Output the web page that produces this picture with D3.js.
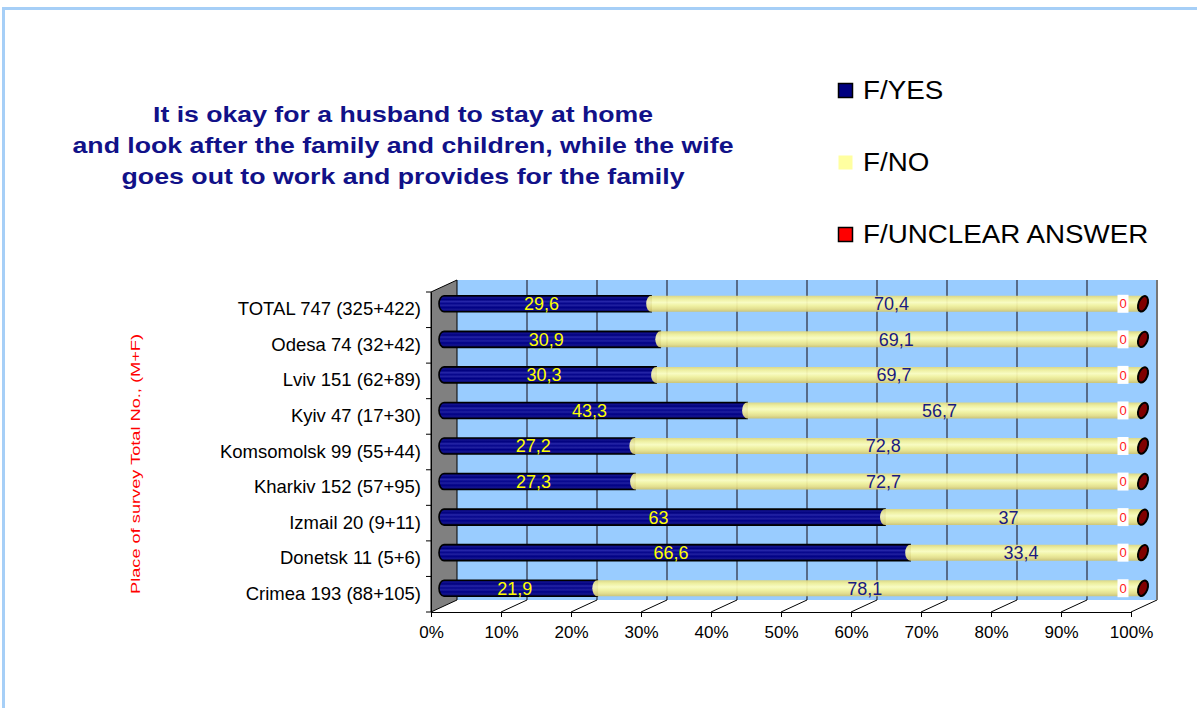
<!DOCTYPE html>
<html><head><meta charset="utf-8">
<script src="https://cdn.jsdelivr.net/npm/d3@7/dist/d3.min.js"></script>
<style>body{margin:0;background:#fff}svg{display:block;font-family:"Liberation Sans",Arial,sans-serif}</style>
</head><body>
<script>
const categories = ["TOTAL 747 (325+422)","Odesa 74 (32+42)","Lviv 151 (62+89)","Kyiv 47 (17+30)","Komsomolsk 99 (55+44)","Kharkiv 152 (57+95)","Izmail 20 (9+11)","Donetsk 11 (5+6)","Crimea 193 (88+105)"];
const yesValues = [29.6,30.9,30.3,43.3,27.2,27.3,63,66.6,21.9];
const noValues = [70.4,69.1,69.7,56.7,72.8,72.7,37,33.4,78.1];
const unclearValues = [0,0,0,0,0,0,0,0,0];
const seriesNames = ["F/YES","F/NO","F/UNCLEAR ANSWER"];
const xTicks = [0,10,20,30,40,50,60,70,80,90,100];
const titleLines = ["It is okay for a husband to stay at home","and look after the family and children, while the wife","goes out to work and provides for the family"];
const yTitle = "Place of survey Total No., (M+F)";

(function(){
const W=1197,H=708;
const svg=d3.select("body").append("svg").attr("width",W).attr("height",H);
const defs=svg.append("defs");
const gb=defs.append("linearGradient").attr("id","gBlue").attr("x1",0).attr("x2",0).attr("y1",0).attr("y2",1);
[[0,"#00004e"],[0.12,"#12128e"],[0.24,"#00007e"],[0.36,"#2626a8"],[0.48,"#06068c"],[0.6,"#2020a0"],[0.72,"#000084"],[0.86,"#141490"],[1,"#00004a"]].forEach(s=>gb.append("stop").attr("offset",s[0]).attr("stop-color",s[1]));
const gy=defs.append("linearGradient").attr("id","gYel").attr("x1",0).attr("x2",0).attr("y1",0).attr("y2",1);
[[0,"#e0d880"],[0.2,"#f4f29a"],[0.42,"#ffffbe"],[0.62,"#f6f49c"],[0.82,"#e8e088"],[1,"#cfc470"]].forEach(s=>gy.append("stop").attr("offset",s[0]).attr("stop-color",s[1]));

// frame
svg.append("line").attr("x1",2).attr("x2",W).attr("y1",8.5).attr("y2",8.5).attr("stroke","#a6cff7").attr("stroke-width",3);
svg.append("line").attr("x1",3.5).attr("x2",3.5).attr("y1",7).attr("y2",H).attr("stroke","#a6cff7").attr("stroke-width",3);

const x=d3.scaleLinear().domain([0,100]).range([431,1131]);
const y=d3.scaleBand().domain(categories).range([292,612]);
const DX=26, DY=-12;
const yTop=y.range()[0]+DY, yBot=y.range()[1];

// back wall
svg.append("rect").attr("x",x(0)+DX).attr("y",yTop).attr("width",x(100)-x(0)).attr("height",yBot+DY-yTop).attr("fill","#99ccff");
xTicks.filter(t=>t>0&&t<100).forEach(t=>{
  svg.append("line").attr("x1",x(t)+DX).attr("x2",x(t)+DX).attr("y1",yTop).attr("y2",yBot+DY).attr("stroke","#2a2a3a").attr("stroke-width",1.2);
});
xTicks.filter(t=>t>0).forEach(t=>{
  svg.append("line").attr("x1",x(t)+DX).attr("x2",x(t)).attr("y1",yBot+DY).attr("y2",yBot).attr("stroke","#000").attr("stroke-width",1);
});
svg.append("line").attr("x1",x(100)+DX).attr("x2",x(100)+DX).attr("y1",yTop).attr("y2",yBot+DY).attr("stroke","#777").attr("stroke-width",2);
// side wall
svg.append("polygon").attr("points",[[x(0),y.range()[0]],[x(0)+DX,yTop],[x(0)+DX,yBot+DY],[x(0),yBot]].map(p=>p.join(",")).join(" "))
  .attr("fill","#808080").attr("stroke","#000").attr("stroke-width",1);

// axes
const ax=svg.append("g").attr("transform",`translate(0,${yBot})`)
  .call(d3.axisBottom(x).tickValues(xTicks).tickFormat(d=>d+"%").tickSize(5).tickSizeOuter(0));
ax.selectAll("text").attr("font-size",17).attr("fill","#000").attr("dy","1.05em").attr("font-family","Liberation Sans, Arial, sans-serif");
ax.select(".domain").attr("stroke","#000");
const ay=svg.append("g").attr("transform",`translate(${x(0)},0)`)
  .call(d3.axisLeft(y).tickSize(0).tickPadding(10).tickSizeOuter(0));
ay.selectAll("text").attr("font-size",18.5).attr("fill","#000").attr("dy","0.3em").attr("font-family","Liberation Sans, Arial, sans-serif");
ay.select(".domain").attr("stroke","#000");
categories.concat([null]).forEach((c)=>{
  const yy = c===null? yBot : y(c);
  svg.append("line").attr("x1",x(0)-5).attr("x2",x(0)).attr("y1",yy).attr("y2",yy).attr("stroke","#000");
});

// bars
const h=16, rx=5;
function seg(xa,xb,cy){
  return `M${xb},${cy-h/2}L${xa},${cy-h/2}A${rx},${h/2} 0 0 0 ${xa},${cy+h/2}L${xb},${cy+h/2}Z`;
}
categories.forEach((c,i)=>{
  const cy=y(c)+y.bandwidth()/2+DY/2;
  const o=DX/2;
  const xa=x(0)+o, xb=x(yesValues[i])+o, xc=x(yesValues[i]+noValues[i])+o, xd=x(yesValues[i]+noValues[i]+unclearValues[i])+o;
  svg.append("path").attr("d",seg(xa,xb,cy)).attr("fill","url(#gBlue)").attr("stroke","#000").attr("stroke-width",1.6);
  svg.append("path").attr("d",seg(xb,xc,cy)).attr("fill","url(#gYel)").attr("fill-opacity",0.93);
  svg.append("ellipse").attr("cx",xd-1).attr("cy",cy).attr("rx",4.5).attr("ry",8)
    .attr("transform",`rotate(20,${xd-1},${cy})`).attr("fill","#800000").attr("stroke","#000").attr("stroke-width",2);
  svg.append("text").attr("x",(xa+xb)/2-6).attr("y",cy).attr("dy","0.36em").attr("text-anchor","middle")
    .attr("font-size",18).attr("fill","#ffff00").text(String(yesValues[i]).replace(".",","));
  svg.append("text").attr("x",(xb+xc)/2-6).attr("y",cy).attr("dy","0.36em").attr("text-anchor","middle")
    .attr("font-size",18).attr("fill","#1a1a80").text(String(noValues[i]).replace(".",","));
  const zx=xd-21;
  svg.append("rect").attr("x",zx-5.5).attr("y",cy-9).attr("width",11).attr("height",18).attr("fill","#fff");
  svg.append("text").attr("x",zx).attr("y",cy).attr("dy","0.36em").attr("text-anchor","middle")
    .attr("font-size",13).attr("fill","#ff2020").text(String(unclearValues[i]).replace(".",","));
});

// y title
svg.append("text").attr("transform","translate(140,464) rotate(-90)").attr("text-anchor","middle")
  .attr("font-size",13.5).attr("fill","#ff0000").attr("textLength",260).attr("lengthAdjust","spacingAndGlyphs").text(yTitle);

// title
const tW=[500,661,563], tY=[122,153,184];
titleLines.forEach((t,i)=>{
  svg.append("text").attr("x",403).attr("y",tY[i]).attr("text-anchor","middle").attr("font-weight","bold")
    .attr("font-size",21.5).attr("fill","#111188").attr("textLength",tW[i]).attr("lengthAdjust","spacingAndGlyphs").text(t);
});

// legend
const lg=[{fill:"#000080",stroke:"#000"},{fill:"#ffffa0",stroke:"none"},{fill:"#ff0000",stroke:"#000"}];
const lgY=[99,171,243];
seriesNames.forEach((n,i)=>{
  svg.append("rect").attr("x",838.5).attr("y",lgY[i]-15.5).attr("width",14).attr("height",14)
    .attr("fill",lg[i].fill).attr("stroke",lg[i].stroke).attr("stroke-width",1.5);
  svg.append("text").attr("transform",`translate(863,${lgY[i]}) scale(1.11,1)`).attr("font-size",25).attr("fill","#000").text(n);
});
})();
</script>
</body></html>
